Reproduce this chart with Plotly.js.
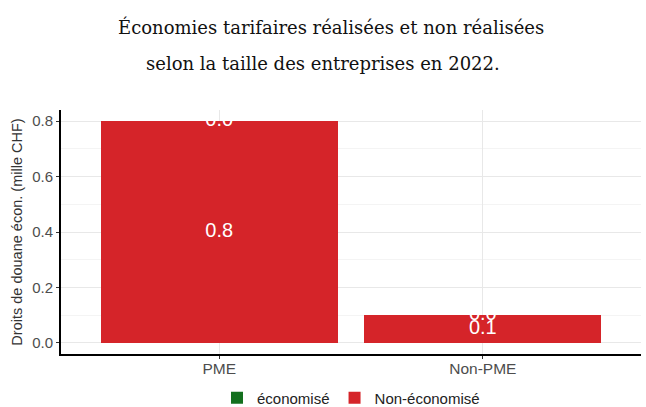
<!DOCTYPE html>
<html><head><meta charset="utf-8">
<script src="https://cdn.plot.ly/plotly-3.0.1.min.js"></script>
<style>html,body{margin:0;padding:0;background:#fff}#chart{width:646px;height:407px}</style>
</head><body><div id="chart"></div>
<script>
const categories = ["PME", "Non-PME"];
const economise = [0.0, 0.0];
const nonEconomise = [0.8, 0.1];
const seriesNames = ["économisé", "Non-économisé"];
const titleLines = ["Économies tarifaires réalisées et non réalisées", "selon la taille des entreprises en 2022."];
const yTicks = [0.0, 0.2, 0.4, 0.6, 0.8];

const red = "#d52429", green = "#13701e";
const labelFont = {family: "Liberation Sans, Arial, sans-serif", size: 20, color: "#ffffff"};
const titleFont = {family: "DejaVu Serif, serif", size: 18, color: "#111111"};

const traces = [
  {type: "bar", x: categories, y: nonEconomise, name: seriesNames[1], marker: {color: red}, hoverinfo: "none"},
  {type: "bar", x: categories, y: economise, name: seriesNames[0], marker: {color: green}, hoverinfo: "none"},
  {type: "scatter", mode: "text", x: categories, y: nonEconomise.map(v => v / 2),
   text: nonEconomise.map(v => v.toFixed(1)), textfont: labelFont, showlegend: false, hoverinfo: "none"},
  {type: "scatter", mode: "text", x: categories, y: nonEconomise.map((v, i) => v + economise[i] / 2),
   text: economise.map(v => v.toFixed(1)), textfont: labelFont, showlegend: false, hoverinfo: "none"}
];

const layout = {
  width: 646, height: 407,
  margin: {l: 61, r: 5, t: 110, b: 53, autoexpand: false},
  paper_bgcolor: "#ffffff", plot_bgcolor: "#ffffff",
  barmode: "stack", bargap: 0.1,
  font: {family: "Liberation Sans, Arial, sans-serif", color: "#4d4d4d"},
  xaxis: {
    type: "category", range: [-0.6, 1.6],
    showline: true, linecolor: "#000000", linewidth: 2,
    showgrid: true, gridcolor: "#e8e8e8", gridwidth: 1,
    ticks: "outside", ticklen: 3, tickcolor: "#333333", ticklabelstandoff: -4,
    tickfont: {size: 15.5, color: "#4d4d4d"}, zeroline: false
  },
  yaxis: {
    range: [-0.04, 0.84], tickvals: yTicks, ticktext: yTicks.map(v => v.toFixed(1)),
    showline: true, linecolor: "#000000", linewidth: 2,
    showgrid: true, gridcolor: "#e8e8e8", gridwidth: 1,
    minor: {dtick: 0.1, tick0: 0.1, showgrid: true, gridcolor: "#f4f4f4", gridwidth: 1},
    ticks: "outside", ticklen: 3, tickcolor: "#333333",
    tickfont: {size: 15, color: "#4d4d4d"}, zeroline: false,
    title: {text: "Droits de douane écon. (mille CHF)", font: {size: 14.5, color: "#333333"}, standoff: 6}
  },
  legend: {
    orientation: "h", x: 0.5, xanchor: "center", y: -0.18, yanchor: "middle",
    traceorder: "reversed", font: {size: 15, color: "#222222"}, itemwidth: 30
  },
  annotations: [
    {text: titleLines[0], xref: "paper", yref: "paper", x: 0.466, y: 1, yanchor: "middle", xanchor: "center",
     showarrow: false, font: titleFont, yshift: 83},
    {text: titleLines[1], xref: "paper", yref: "paper", x: 0.452, y: 1, yanchor: "middle", xanchor: "center",
     showarrow: false, font: titleFont, yshift: 47}
  ]
};
Plotly.newPlot("chart", traces, layout, {displayModeBar: false, staticPlot: true});
</script></body></html>
